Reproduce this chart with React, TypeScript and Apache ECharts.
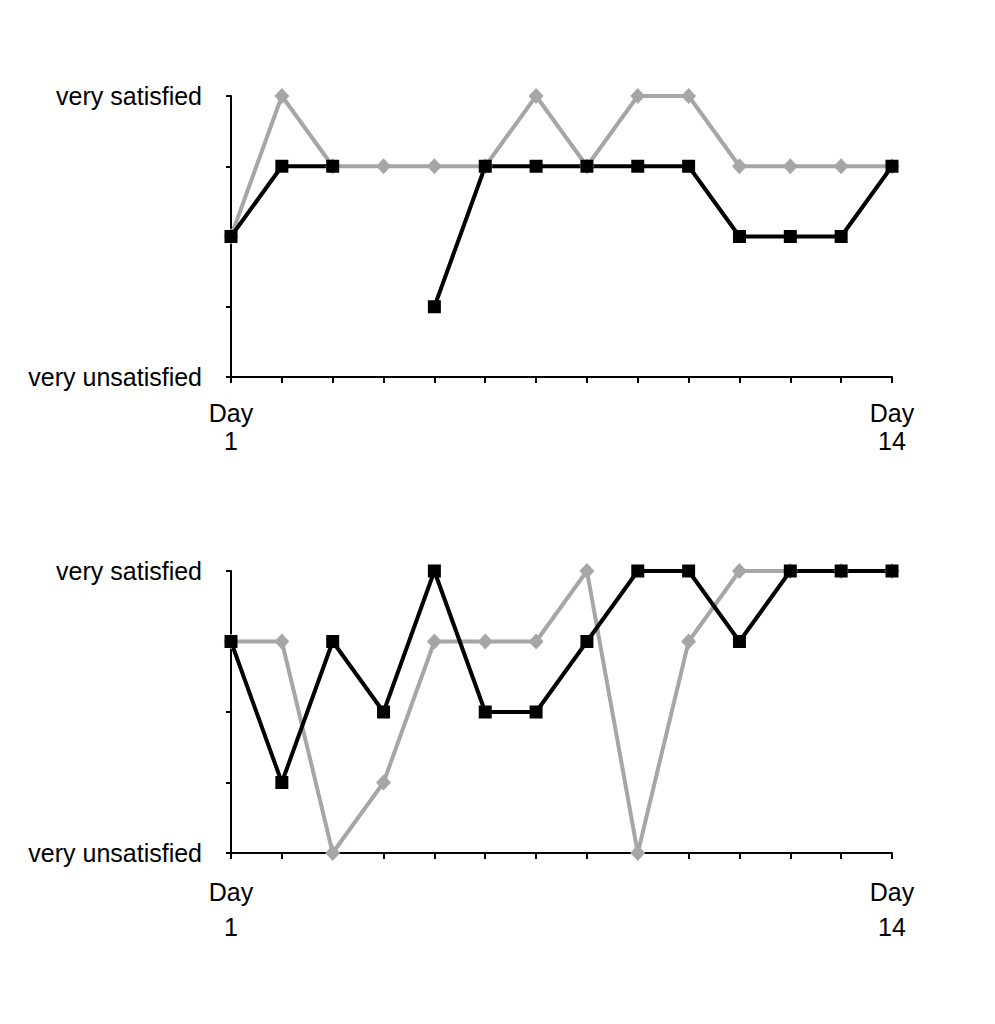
import React, { useEffect, useRef } from 'react';
import * as echarts from 'echarts';

// 0 = very unsatisfied ... 4 = very satisfied
const days = ['1', '2', '3', '4', '5', '6', '7', '8', '9', '10', '11', '12', '13', '14'];
const topGray = [2, 4, 3, 3, 3, 3, 4, 3, 4, 4, 3, 3, 3, 3];
const topBlack = [2, 3, 3, null, 1, 3, 3, 3, 3, 3, 2, 2, 2, 3];
const bottomGray = [3, 3, 0, 1, 3, 3, 3, 4, 0, 3, 4, 4, 4, 4];
const bottomBlack = [3, 1, 3, 2, 4, 2, 2, 3, 4, 4, 3, 4, 4, 4];
const yTop = 'very satisfied';
const yBottom = 'very unsatisfied';

const FONT = 'Liberation Sans, Arial, sans-serif';

const xAxisFor = (gridIndex: number, lineHeight: number, margin: number) => ({
  type: 'category' as const,
  gridIndex,
  data: days,
  boundaryGap: false,
  axisLine: { lineStyle: { color: '#000', width: 2 } },
  axisTick: { show: true, length: 6, lineStyle: { color: '#000', width: 2 }, interval: 0 },
  axisLabel: {
    interval: (i: number) => i === 0 || i === days.length - 1,
    formatter: (v: string) => 'Day\n' + v,
    color: '#000',
    fontFamily: FONT,
    fontSize: 25,
    lineHeight,
    margin,
  },
});

const yAxisFor = (gridIndex: number) => ({
  type: 'value' as const,
  gridIndex,
  min: 0,
  max: 4,
  interval: 1,
  splitLine: { show: false },
  axisLine: { show: true, lineStyle: { color: '#000', width: 2 } },
  axisTick: { show: true, length: 5, lineStyle: { color: '#000', width: 2 } },
  axisLabel: {
    formatter: (v: number) => (v === 4 ? yTop : v === 0 ? yBottom : ''),
    color: '#000',
    fontFamily: FONT,
    fontSize: 25,
    margin: 29,
  },
});

const graySeries = (idx: number, data: (number | null)[]) => ({
  type: 'line' as const,
  xAxisIndex: idx,
  yAxisIndex: idx,
  data,
  symbol: 'diamond',
  symbolSize: [15, 16],
  lineStyle: { color: '#a6a6a6', width: 4 },
  itemStyle: { color: '#a6a6a6' },
});

const blackSeries = (idx: number, data: (number | null)[]) => ({
  type: 'line' as const,
  xAxisIndex: idx,
  yAxisIndex: idx,
  data,
  symbol: 'rect',
  symbolSize: 13,
  lineStyle: { color: '#000', width: 4 },
  itemStyle: { color: '#000' },
});

export default function App() {
  const chartRef = useRef<HTMLDivElement>(null);

  useEffect(() => {
    if (!chartRef.current) return;
    document.body.style.margin = '0';
    const chart = echarts.init(chartRef.current, null, { renderer: 'svg' });

    chart.setOption({
      animation: false,
      backgroundColor: '#fff',
      grid: [
        { left: 231, top: 96, width: 661, height: 281 },
        { left: 231, top: 571, width: 661, height: 282 },
      ],
      xAxis: [xAxisFor(0, 28, 22), xAxisFor(1, 35, 21)],
      yAxis: [yAxisFor(0), yAxisFor(1)],
      series: [
        graySeries(0, topGray),
        blackSeries(0, topBlack),
        graySeries(1, bottomGray),
        blackSeries(1, bottomBlack),
      ],
    });

    return () => {
      chart.dispose();
    };
  }, []);

  return <div ref={chartRef} style={{ width: '995px', height: '1024px' }} />;
}
